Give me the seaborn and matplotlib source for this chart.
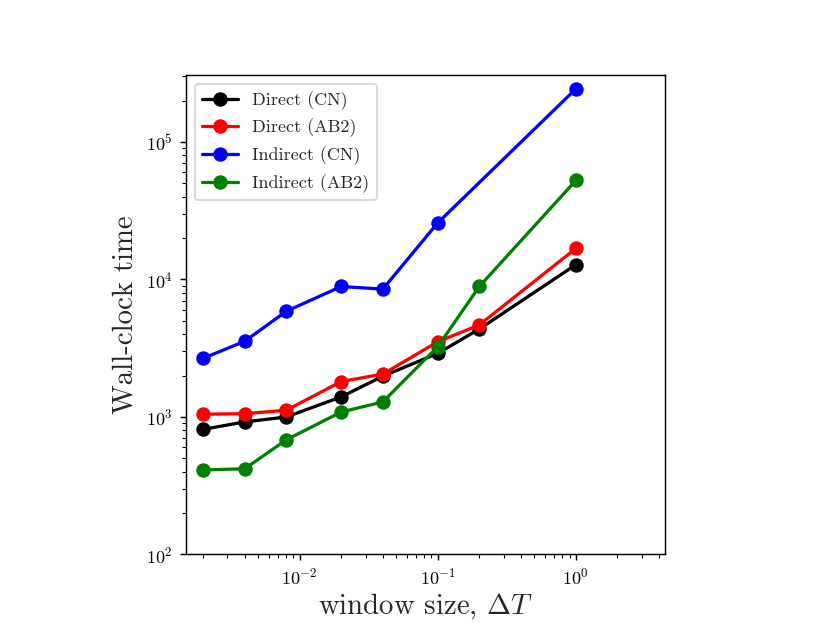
import pandas as pd
import matplotlib.pyplot as plt
import seaborn as sns

# window sizes and wall-clock times
dt = [0.002, 0.004, 0.008, 0.02, 0.04, 0.1, 0.2, 1.0]
dt_ind_cn = [0.002, 0.004, 0.008, 0.02, 0.04, 0.1, 1.0]

direct_cn = [813, 920, 1000, 1400, 1980, 2900, 4360, 12800]
direct_ab2 = [1046, 1057, 1119, 1810, 2050, 3520, 4670, 16800]
indirect_cn = [2670, 3550, 5870, 8890, 8500, 25800, 243000]
indirect_ab2 = [412, 420, 682, 1087, 1286, 3245, 8890, 52500]

series = [
    ('Direct (CN)', dt, direct_cn, 'black'),
    ('Direct (AB2)', dt, direct_ab2, 'red'),
    ('Indirect (CN)', dt_ind_cn, indirect_cn, 'blue'),
    ('Indirect (AB2)', dt, indirect_ab2, 'green'),
]

sns.set_style("ticks")
plt.rcParams['font.family'] = 'serif'
plt.rcParams['font.serif'] = ['cmr10', 'DejaVu Serif']
plt.rcParams['mathtext.fontset'] = 'cm'
plt.rcParams['axes.formatter.use_mathtext'] = True
plt.rcParams['axes.edgecolor'] = 'black'
plt.rcParams['xtick.color'] = 'black'
plt.rcParams['ytick.color'] = 'black'

fig, ax = plt.subplots(figsize=(830 / 130, 623 / 130), dpi=130)

for nombre, x, y, color in series:
    df = pd.DataFrame({'dt': x, 't': y})
    sns.lineplot(data=df, x='dt', y='t', color=color, label=nombre,
                 marker='o', markersize=8, markeredgewidth=0,
                 linewidth=1.8, ax=ax)

ax.set_xscale('log')
ax.set_yscale('log')
ax.set_xlim(1.49e-3, 4.44)
ax.set_ylim(1e2, 3.08e5)
ax.set_box_aspect(1)

ax.set_xlabel(r'window size, $\Delta T$', fontsize=16, labelpad=2)
ax.set_ylabel('Wall-clock time', fontsize=16)
ax.legend(loc='upper left')

plt.savefig('out.png', dpi=130)
